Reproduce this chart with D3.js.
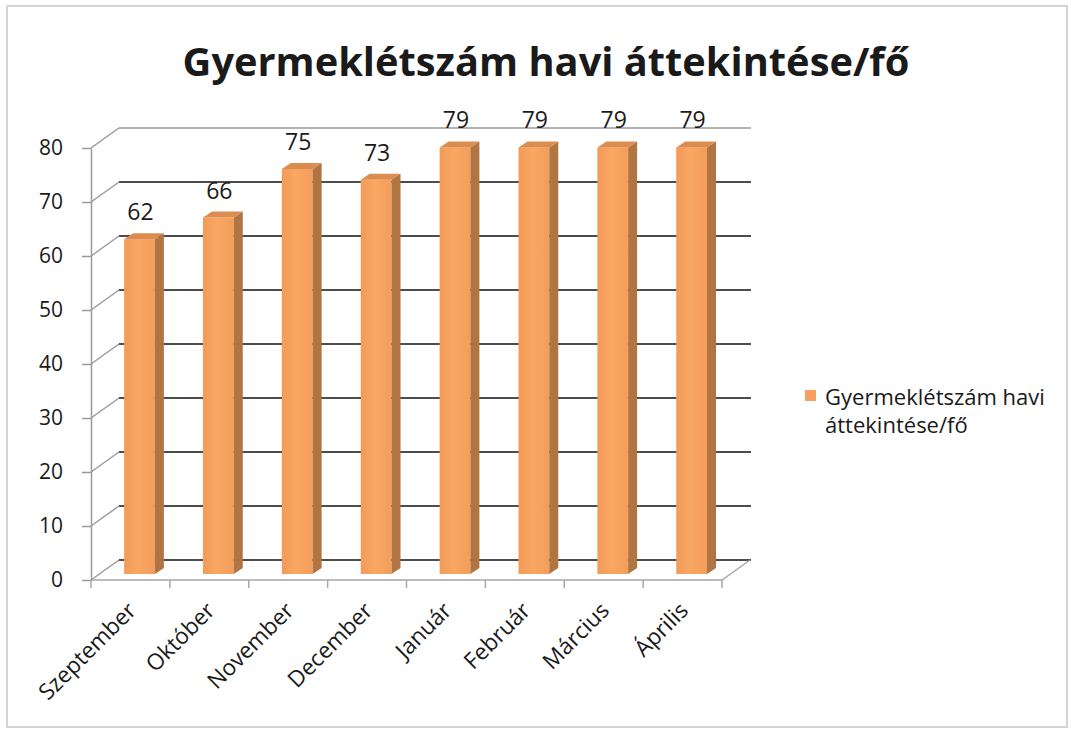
<!DOCTYPE html>
<html>
<head>
<meta charset="utf-8">
<script src="https://cdn.jsdelivr.net/npm/d3@7"></script>
<style>
  body { margin: 0; background: #fff; }
  text { font-family: "Open Sans", "Noto Sans", sans-serif; fill: #1a1a1a; }
</style>
</head>
<body>
<div id="mainContainer"></div>
<script>
var titleText = "Gyermeklétszám havi áttekintése/fő";
var legendLines = ["Gyermeklétszám havi", "áttekintése/fő"];
var months = ["Szeptember", "Október", "November", "December", "Január", "Február", "Március", "Április"];
var values = [62, 66, 75, 73, 79, 79, 79, 79];
var yTicks = [0, 10, 20, 30, 40, 50, 60, 70, 80];

var width = 1071, height = 731;
var backDx = 28, backDy = -20;   // back wall offset
var barDx = 9, barDy = -6;       // bar depth

var svg = d3.select('#mainContainer').append('svg')
    .attr('width', width)
    .attr('height', height);

svg.append('rect').attr('width', width).attr('height', height).attr('fill', '#fff');
// scanned frame
svg.append('rect')
    .attr('x', 7).attr('y', 6).attr('width', 1060).attr('height', 721)
    .attr('fill', 'none').attr('stroke', '#d4d4d4').attr('stroke-width', 2);

var x = d3.scaleBand().domain(months).range([91, 722]);
var yFront = d3.scaleLinear().domain([0, 80]).range([580, 148]);
var yBar = d3.scaleLinear().domain([0, 80]).range([574, 142]);

var defs = svg.append('defs');
var grad = defs.append('linearGradient').attr('id', 'front').attr('x1', 0).attr('x2', 1).attr('y1', 0).attr('y2', 0);
grad.append('stop').attr('offset', '0%').attr('stop-color', '#f39a58');
grad.append('stop').attr('offset', '45%').attr('stop-color', '#f9a763');
grad.append('stop').attr('offset', '100%').attr('stop-color', '#f59d5b');

var g = svg.append('g');

// back wall gridlines
g.append('g').selectAll('line')
    .data(yTicks)
    .enter()
    .append('line')
    .attr('x1', 91 + backDx)
    .attr('x2', 722 + backDx + 1)
    .attr('y1', function (d) { return yFront(d) + backDy; })
    .attr('y2', function (d) { return yFront(d) + backDy; })
    .attr('stroke', function (d) { return d == 80 ? '#9a9a9a' : '#4d4d4d'; })
    .attr('stroke-width', function (d) { return d == 80 ? 1.5 : 2.2; });

// side wall diagonals
g.append('g').selectAll('line')
    .data(yTicks)
    .enter()
    .append('line')
    .attr('x1', 91).attr('x2', 91 + backDx)
    .attr('y1', function (d) { return yFront(d); })
    .attr('y2', function (d) { return yFront(d) + backDy; })
    .attr('stroke', '#9a9a9a').attr('stroke-width', 1.5);

// floor
var floor = [[91, yFront(0)], [722, yFront(0)], [722 + backDx, yFront(0) + backDy]];
g.append('path')
    .attr('d', 'M' + floor[0] + 'L' + floor[1] + 'L' + floor[2])
    .attr('fill', 'none').attr('stroke', '#a8a8a8').attr('stroke-width', 1.5);

// y axis
var yAxis = g.append('g')
    .attr('transform', 'translate(91,0)')
    .call(d3.axisLeft(yFront).tickValues(yTicks).tickSize(9).tickSizeOuter(0).tickPadding(10));
yAxis.select('.domain').attr('stroke', '#9a9a9a').attr('stroke-width', 1.5);
yAxis.selectAll('.tick line').attr('stroke', '#9a9a9a').attr('stroke-width', 1.5);
yAxis.selectAll('.tick text')
    .attr('font-size', '21px')
    .attr('font-family', '"Open Sans", sans-serif')
    .attr('fill', '#151515')
    .attr('x', -28);

// x ticks at category boundaries
var bounds = months.map(function (m) { return x(m); }).concat([x.range()[1]]);
g.append('g').selectAll('line')
    .data(bounds)
    .enter()
    .append('line')
    .attr('x1', function (d) { return d; }).attr('x2', function (d) { return d; })
    .attr('y1', yFront(0)).attr('y2', yFront(0) + 8)
    .attr('stroke', '#a8a8a8').attr('stroke-width', 1.5);

// x labels
g.append('g').selectAll('text')
    .data(months)
    .enter()
    .append('text')
    .attr('transform', function (d) {
        return 'translate(' + (x(d) + x.bandwidth() / 2 + 7) + ',' + 612 + ') rotate(-45)';
    })
    .attr('text-anchor', 'end')
    .attr('font-size', '22.5px')
    .attr('fill', '#151515')
    .text(function (d) { return d; });

// bars
var data = months.map(function (m, i) { return { m: m, v: values[i] }; });
var bw = x.bandwidth();
var bars = g.append('g').selectAll('g')
    .data(data)
    .enter()
    .append('g');

function x0(d) { return x(d.m) + bw * 0.42; }
function x1(d) { return x(d.m) + bw * 0.81; }

bars.append('rect')
    .attr('x', x0)
    .attr('y', function (d) { return yBar(d.v); })
    .attr('width', function (d) { return x1(d) - x0(d); })
    .attr('height', function (d) { return yBar(0) - yBar(d.v); })
    .attr('fill', 'url(#front)');

bars.append('path')
    .attr('d', function (d) {
        var a = x1(d), t = yBar(d.v), b = yBar(0);
        return 'M' + a + ',' + t + 'L' + (a + barDx) + ',' + (t + barDy) +
            'L' + (a + barDx) + ',' + (b + barDy) + 'L' + a + ',' + b + 'Z';
    })
    .attr('fill', '#b07542');

bars.append('path')
    .attr('d', function (d) {
        var a = x0(d), c = x1(d), t = yBar(d.v);
        return 'M' + a + ',' + t + 'L' + c + ',' + t + 'L' + (c + barDx) + ',' + (t + barDy) +
            'L' + (a + barDx) + ',' + (t + barDy) + 'Z';
    })
    .attr('fill', '#dc8b51');

// data labels
bars.append('text')
    .attr('x', function (d) { return (x0(d) + x1(d)) / 2 + 1; })
    .attr('y', function (d) { return yBar(d.v) - 19; })
    .attr('text-anchor', 'middle')
    .attr('font-size', '23px')
    .text(function (d) { return d.v; });

// title
var title = svg.append('text')
    .attr('x', 546).attr('y', 76)
    .attr('text-anchor', 'middle')
    .attr('font-weight', 'bold')
    .attr('font-size', '40px')
    .text(titleText);
var tw = title.node().getComputedTextLength();
title.attr('font-size', (40 * 727 / tw) + 'px');

// legend
svg.append('rect')
    .attr('x', 805).attr('y', 390).attr('width', 11).attr('height', 11)
    .attr('fill', '#f7a05f');
var leg = svg.append('g').selectAll('text')
    .data(legendLines)
    .enter()
    .append('text')
    .attr('x', 825)
    .attr('y', function (d, i) { return 405 + i * 28; })
    .attr('font-size', '20px')
    .text(function (d) { return d; });
var lw = leg.nodes()[0].getComputedTextLength();
leg.attr('font-size', (20 * 220 / lw) + 'px');
</script>
</body>
</html>
